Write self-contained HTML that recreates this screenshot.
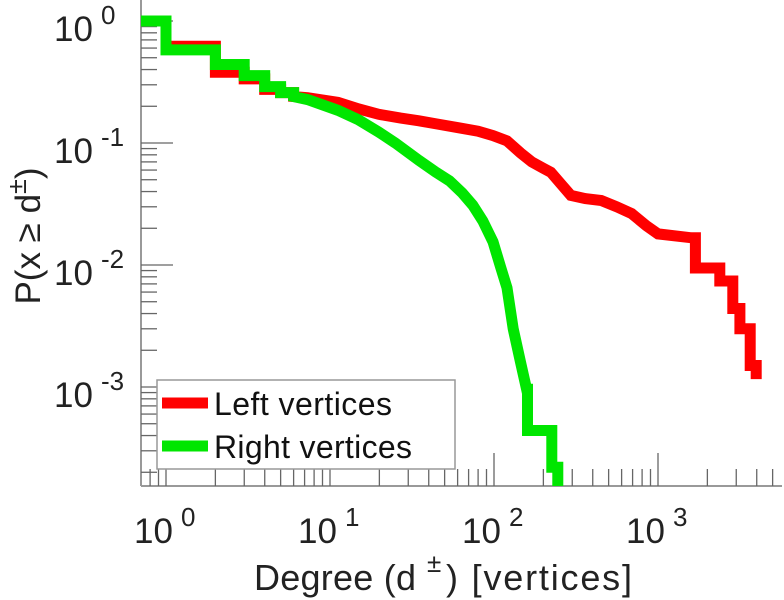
<!DOCTYPE html>
<html><head><meta charset="utf-8"><style>
html,body{margin:0;padding:0;background:#fff;}
svg{display:block;font-family:"Liberation Sans",sans-serif;}
</style></head><body>
<svg id="chart" width="784" height="600" viewBox="0 0 784 600" xmlns="http://www.w3.org/2000/svg">
<g id="axes"></g>
<g id="series"></g>
<g id="legend">
  <rect x="157" y="380" width="298" height="89" fill="#fff" stroke="#999" stroke-width="1.5"/>
  <line x1="162" y1="403" x2="208" y2="403" stroke="#ff0000" stroke-width="11"/>
  <text x="214" y="415" font-size="32" fill="#111" textLength="178">Left vertices</text>
  <line x1="162" y1="446" x2="208" y2="446" stroke="#00e600" stroke-width="11"/>
  <text x="214" y="458" font-size="32" fill="#111" textLength="198">Right vertices</text>
</g>
<text x="254" y="590" font-size="36" fill="#222"><tspan textLength="162">Degree (d</tspan><tspan x="427" y="572" font-size="26">±</tspan><tspan x="446" y="590" textLength="186">) [vertices]</tspan></text>
<text transform="translate(40,236) rotate(-90)" text-anchor="middle" font-size="35" fill="#222">P(x ≥ d<tspan dy="-14" font-size="27">±</tspan><tspan dy="14">)</tspan></text>
</svg>
<script>
const leftDeg = [0.66,1,1,2,2,3,3,4,4,5,5,6,6,7.3,11.2,15,19.8,27,34.9,45,61.7,80,98.6,120,145,170,200,222,260,294,360,451,560,691,850,1000,1600,1690,1690,2380,2380,2860,2860,3160,3160,3650,3650,3970,3970];
const leftP   = [1,1,0.62,0.62,0.38,0.38,0.335,0.335,0.275,0.275,0.259,0.259,0.24,0.235,0.215,0.19,0.172,0.16,0.152,0.143,0.133,0.125,0.115,0.104,0.083,0.07,0.062,0.0576,0.045,0.0372,0.035,0.0338,0.03,0.0264,0.021,0.018,0.0167,0.0167,0.00945,0.00945,0.0074,0.0074,0.0044,0.0044,0.003,0.003,0.0015,0.0015,0.00116];
const rightDeg = [0.66,1,1,2,2,3,3,4,4,5,5,6,6,7.3,11.2,14.9,19.8,25,34.9,44,53.5,64,74.2,85.5,98.6,110,120,131,145,158,160,160,225,225,245,245];
const rightP   = [1,1,0.58,0.58,0.44,0.44,0.357,0.357,0.29,0.29,0.259,0.259,0.24,0.227,0.185,0.155,0.123,0.1,0.072,0.058,0.049,0.039,0.031,0.023,0.0155,0.0095,0.0065,0.003,0.0016,0.00096,0.00096,0.00044,0.00044,0.00022,0.00022,0.0001];
const xTickExp = [0,1,2,3];
const xTickLabels = ["0","1","2","3"];
const yTickExp = [0,-1,-2,-3];
const yTickLabels = ["0","-1","-2","-3"];

const X0=166, XD=164, Y0=21, YD=122, LEFT=141, BOTTOM=486, RIGHT=782, TOP=0;
function sx(d){return X0+XD*Math.log10(d);}
function sy(p){return Y0-YD*Math.log10(p);}
const NS="http://www.w3.org/2000/svg";
function mk(tag,attrs,parent){const e=document.createElementNS(NS,tag);for(const k in attrs)e.setAttribute(k,attrs[k]);parent.appendChild(e);return e;}
const axes=document.getElementById('axes');
const defs=mk('defs',{},document.getElementById('chart'));
const cp=mk('clipPath',{id:'plotclip'},defs);
mk('rect',{x:LEFT,y:TOP,width:RIGHT-LEFT,height:BOTTOM-TOP},cp);
let a=mk('line',{x1:LEFT,y1:TOP,x2:LEFT,y2:BOTTOM,stroke:'#999','stroke-width':2},axes);


a=mk('line',{x1:LEFT,y1:BOTTOM,x2:RIGHT,y2:BOTTOM,stroke:'#999','stroke-width':2},axes);


for(let e=-1;e<=3;e++){for(let k=1;k<=9;k++){const d=k*Math.pow(10,e);const x=sx(d);if(x<LEFT||x>RIGHT)continue;const major=k===1;
 const t=mk('line',{x1:x,y1:BOTTOM,x2:x,y2:BOTTOM-(major?33:17),stroke:'#666','stroke-width':1.3},axes);
 
 }}
for(let e=-4;e<=0;e++){for(let k=1;k<=9;k++){const p=k*Math.pow(10,e);const y=sy(p);if(y<TOP||y>BOTTOM)continue;const major=k===1;
 const t=mk('line',{x1:LEFT,y1:y,x2:LEFT+(major?32:16),y2:y,stroke:'#666','stroke-width':1.3},axes);
 
 }}
xTickExp.forEach((e,i)=>{const x=sx(Math.pow(10,e));
 const t=mk('text',{x:x-32,y:543,'font-size':35,fill:'#222'},axes);
 t.innerHTML='10<tspan dx="8" dy="-17" font-size="26">'+xTickLabels[i]+'</tspan>';
 
 });
yTickExp.forEach((e,i)=>{const y=sy(Math.pow(10,e));
 const t=mk('text',{x:54,y:y+20,'font-size':35,fill:'#222'},axes);
 t.innerHTML='10<tspan dx="8" dy="-17" font-size="26">'+yTickLabels[i]+'</tspan>';
 
 });
function poly(deg,p){return deg.map((d,i)=>(i?'L':'M')+sx(d).toFixed(1)+' '+sy(p[i]).toFixed(1)).join(' ');}
const sg=document.getElementById('series');
let path=mk('path',{d:poly(leftDeg,leftP),fill:'none',stroke:'#ff0000','stroke-width':11,'stroke-linejoin':'miter','clip-path':'url(#plotclip)'},sg);


path=mk('path',{d:poly(rightDeg,rightP),fill:'none',stroke:'#00e600','stroke-width':11,'stroke-linejoin':'miter','clip-path':'url(#plotclip)'},sg);


document.getElementById('chart').appendChild(document.getElementById('legend'));
</script>
</body></html>
